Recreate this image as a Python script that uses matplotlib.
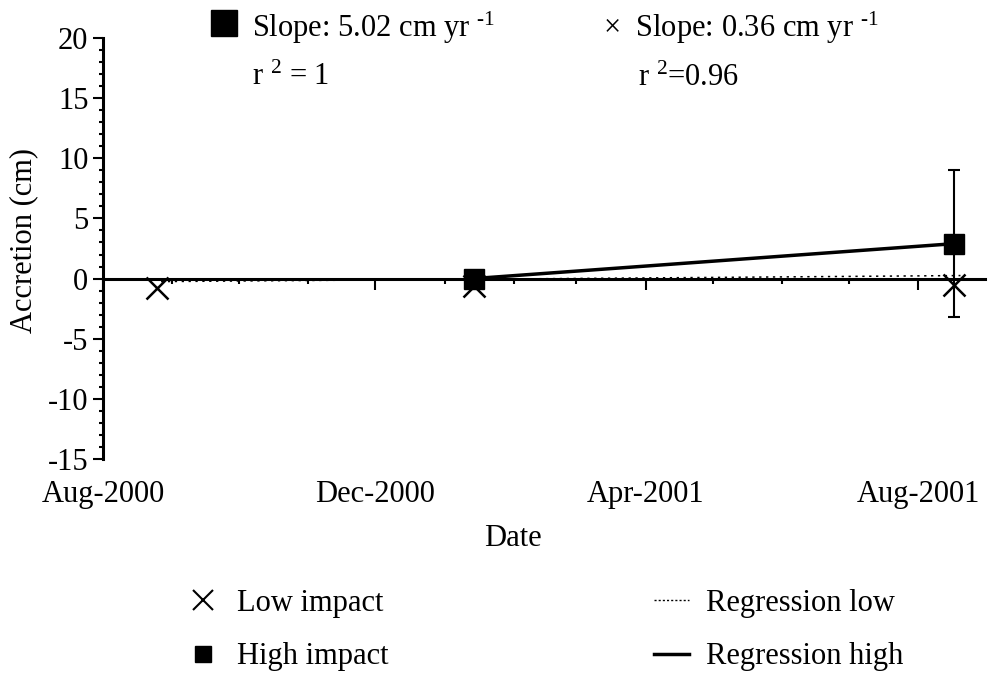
import datetime as dt

import matplotlib

matplotlib.use("Agg")
import matplotlib.dates as mdates
import matplotlib.pyplot as plt
from matplotlib.lines import Line2D
from matplotlib.ticker import MultipleLocator

plt.rcParams["font.family"] = ["Liberation Serif", "DejaVu Serif"]
plt.rcParams["font.size"] = 22
plt.rcParams["axes.unicode_minus"] = False
plt.rcParams["mathtext.fontset"] = "custom"
plt.rcParams["mathtext.rm"] = "Liberation Serif"
plt.rcParams["mathtext.it"] = "Liberation Serif:italic"

# accretion (cm) measured at each plot type
low_dates = [dt.date(2000, 8, 25), dt.date(2001, 1, 14), dt.date(2001, 8, 17)]
low_acc = [-0.8, -0.6, -0.5]
high_dates = [dt.date(2001, 1, 14), dt.date(2001, 8, 17)]
high_acc = [0.0, 2.9]
high_err = [0.0, 6.1]

# end points of the fitted line for the low impact plots
reg_low_dates = [dt.date(2000, 8, 27), dt.date(2001, 8, 20)]
reg_low_acc = [-0.25, 0.25]

x_range = [dt.date(2000, 8, 1), dt.date(2001, 8, 31)]
y_range = [-15, 20]
label_months = [8, 12, 4]

legend_labels = ["Low impact", "High impact", "Regression low", "Regression high"]
slope_high = "Slope: 5.02 cm yr $^{\u2010 1}$"
r2_high = "r $^{2}$ = 1"
slope_low = "\u00d7  Slope: 0.36 cm yr $^{\u2010 1}$"
r2_low = "r $^{2}$=0.96"

W, H = 988, 675
fig = plt.figure(figsize=(W / 100, H / 100), dpi=100)
ax = fig.add_axes([103 / W, 216 / H, 882 / W, 421 / H])

dotted = (0, (1.5, 3))
ax.plot(reg_low_dates, reg_low_acc, color="k", lw=1.1, ls=dotted, zorder=2)
ax.plot(high_dates, high_acc, color="k", lw=2.5, zorder=3)
ax.plot(low_dates, low_acc, ls="none", marker="x", ms=16.5, mew=1.8, color="k", zorder=4)
ax.errorbar(high_dates, high_acc, yerr=high_err, fmt="s", ms=14, color="k",
            ecolor="k", elinewidth=1.5, capsize=4, capthick=1.5, zorder=5)

ax.set_xlim(x_range)
ax.set_ylim(y_range)

for side in ("top", "right"):
    ax.spines[side].set_visible(False)
ax.spines["bottom"].set_position(("data", 0))
for side in ("left", "bottom"):
    ax.spines[side].set_linewidth(2.2)

ax.yaxis.set_major_locator(MultipleLocator(5))
ax.yaxis.set_minor_locator(MultipleLocator(1))
ax.tick_params(axis="y", which="major", direction="out", length=7.5, width=1.5, pad=3)
ax.tick_params(axis="y", which="minor", direction="out", length=3, width=1.5)

ax.xaxis.set_major_locator(mdates.MonthLocator(bymonth=label_months))
ax.xaxis.set_minor_locator(mdates.MonthLocator())
ax.tick_params(axis="x", which="major", direction="out", length=8, width=1.5, labelbottom=False)
ax.tick_params(axis="x", which="minor", direction="out", length=3.5, width=1.5)

# date labels sit under the plot, away from the zero line
sec = ax.secondary_xaxis("bottom")
sec.spines["bottom"].set_visible(False)
sec.xaxis.set_major_locator(mdates.MonthLocator(bymonth=label_months))
sec.xaxis.set_minor_locator(mdates.MonthLocator())
sec.xaxis.set_major_formatter(mdates.DateFormatter("%b-%Y"))
sec.tick_params(axis="x", which="both", length=0, pad=15)

ax.set_ylabel("Accretion (cm)")
ax.yaxis.set_label_coords(-0.074, 0.52)
ax.set_xlabel("Date")
ax.xaxis.set_label_coords(0.465, -0.155)

# regression summaries above the plot
ax.plot([224 / W], [1 - 23 / H], marker="s", ms=19, color="k", mec="k",
        transform=fig.transFigure, clip_on=False)
fig.text(252 / W, 1 - 37 / H, slope_high, va="baseline")
fig.text(252 / W, 1 - 85 / H, r2_high, va="baseline")
fig.text(603 / W, 1 - 37 / H, slope_low, va="baseline")
fig.text(638 / W, 1 - 86 / H, r2_low, va="baseline")

handles = [
    Line2D([], [], ls="none", marker="x", ms=14, mew=1.5, color="k"),
    Line2D([], [], ls="none", marker="s", ms=12, color="k"),
    Line2D([], [], color="k", lw=1, ls=(0, (1.5, 1.5))),
    Line2D([], [], color="k", lw=2.5),
]
fig.legend(handles, legend_labels, ncol=2, loc="upper left",
           bbox_to_anchor=(185 / W, 1 - 589 / H), frameon=False,
           handlelength=1.15, handletextpad=0.55, columnspacing=8.7,
           labelspacing=0.8, borderpad=0, borderaxespad=0)

fig.savefig("out.png", dpi=100)
